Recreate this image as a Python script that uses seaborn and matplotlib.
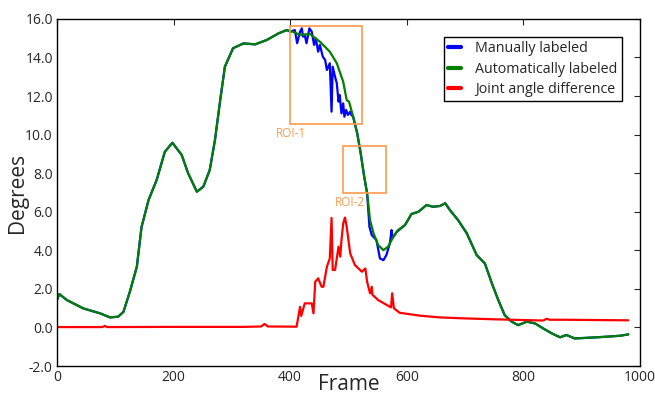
import numpy as np
import seaborn as sns
import matplotlib
matplotlib.use("Agg")
import matplotlib.pyplot as plt
from matplotlib.patches import Rectangle
from matplotlib.ticker import FormatStrFormatter, MultipleLocator

# Automatically labeled joint angle
auto_frame = [0, 4, 17, 45, 74, 91, 105, 114, 125, 137, 145, 157, 171, 185, 198, 214, 225, 240,
              251, 262, 271, 280, 288, 302, 320, 340, 360, 380, 394, 405, 417, 434, 451, 468,
              480, 491, 497, 501, 508, 515, 521, 527, 532, 537, 543, 551, 560, 568, 577, 585,
              597, 608, 620, 634, 645, 657, 666, 674, 688, 703, 720, 734, 746, 757, 768, 780,
              791, 806, 820, 834, 849, 863, 874, 888, 914, 943, 966, 980]
auto_deg = [1.42, 1.73, 1.42, 0.99, 0.73, 0.52, 0.56, 0.81, 1.85, 3.15, 5.2, 6.6, 7.65, 9.11,
            9.58, 8.94, 7.99, 7.04, 7.30, 8.16, 9.72, 11.79, 13.52, 14.48, 14.73, 14.68, 14.91,
            15.25, 15.42, 15.33, 15.17, 15.22, 14.82, 14.30, 13.70, 12.74, 11.79, 11.71, 10.93,
            10.07, 9.03, 7.82, 6.96, 5.57, 4.88, 4.27, 4.01, 4.19, 4.70, 5.05, 5.31, 5.88, 6.00,
            6.35, 6.26, 6.30, 6.44, 6.09, 5.57, 4.88, 3.75, 3.32, 2.29, 1.42, 0.64, 0.30, 0.12,
            0.30, 0.21, -0.05, -0.31, -0.51, -0.39, -0.57, -0.53, -0.48, -0.43, -0.36]

# Manually labeled joint angle
manual_frame = [0, 4, 17, 45, 74, 91, 105, 114, 125, 137, 145, 157, 171, 185, 198, 214, 225, 240,
                251, 262, 271, 280, 288, 302, 320, 340, 360, 380, 394, 400, 408, 412, 417, 420,
                422, 425, 428, 433, 437, 441, 444, 448, 451, 456, 460, 463, 468, 471, 473, 477,
                480, 483, 485, 488, 491, 493, 496, 499, 503, 505, 508, 515, 521, 527, 532, 536,
                540, 548, 554, 560, 565, 571, 574, 575, 583, 597, 608, 620, 634, 645, 657, 666,
                674, 688, 703, 720, 734, 746, 757, 768, 780, 791, 806, 820, 834, 849, 863, 874,
                888, 914, 943, 966, 980]
manual_deg = [1.42, 1.73, 1.42, 0.99, 0.73, 0.52, 0.56, 0.81, 1.85, 3.15, 5.2, 6.6, 7.65, 9.11,
              9.58, 8.94, 7.99, 7.04, 7.30, 8.16, 9.72, 11.79, 13.52, 14.48, 14.73, 14.68, 14.91,
              15.25, 15.42, 15.34, 15.42, 14.74, 15.34, 15.51, 15.08, 15.17, 14.74, 15.51, 15.34,
              14.65, 14.99, 14.30, 14.65, 14.04, 13.87, 13.35, 13.70, 11.19, 13.52, 13.00, 12.66,
              11.71, 12.05, 11.10, 11.62, 10.93, 11.28, 11.02, 11.19, 11.02, 10.93, 10.07, 9.03,
              7.82, 6.96, 5.22, 4.79, 4.53, 3.58, 3.49, 3.75, 4.36, 5.05, 4.62, 4.96, 5.31, 5.88,
              6.00, 6.35, 6.26, 6.30, 6.44, 6.09, 5.57, 4.88, 3.75, 3.32, 2.29, 1.42, 0.64, 0.30,
              0.12, 0.30, 0.21, -0.05, -0.31, -0.51, -0.39, -0.57, -0.53, -0.48, -0.43, -0.36]

# Joint angle difference
diff_frame = [0, 78, 82, 86, 200, 320, 350, 356, 362, 411, 417, 419, 425, 437, 440, 443, 448,
              454, 457, 463, 468, 471, 473, 477, 483, 486, 488, 491, 494, 497, 503, 511, 523,
              529, 532, 537, 540, 541, 551, 566, 573, 575, 578, 588, 623, 657, 700, 754, 834,
              840, 845, 868, 980]
diff_deg = [0.02, 0.02, 0.08, 0.02, 0.03, 0.03, 0.05, 0.18, 0.05, 0.04, 1.07, 0.6, 1.25, 1.25,
            0.73, 2.37, 2.55, 2.11, 2.11, 3.15, 3.58, 5.68, 2.98, 2.98, 4.19, 3.67, 4.53, 5.40,
            5.70, 5.22, 3.84, 3.24, 2.89, 3.06, 2.37, 1.77, 2.11, 1.7, 1.42, 1.16, 1.04, 1.77,
            0.99, 0.76, 0.61, 0.52, 0.47, 0.42, 0.36, 0.45, 0.40, 0.40, 0.37]

roi_names = ["ROI-1", "ROI-2"]
roi_x = [400, 491]
roi_y = [10.55, 6.97]
roi_w = [123, 73]
roi_h = [5.08, 2.44]
roi_label_x = [401, 503]

sns.set_style("white", {"xtick.direction": "in", "ytick.direction": "in",
                        "axes.edgecolor": "black"})
plt.rcParams['font.family'] = ['Open Sans', 'DejaVu Sans']

fig, ax = plt.subplots(figsize=(6.55, 3.94), dpi=100)
fig.subplots_adjust(left=0.087, right=0.977, top=0.952, bottom=0.071)

sns.lineplot(x=manual_frame, y=manual_deg, color='blue', lw=1.6, sort=False,
             estimator=None, label='Manually labeled', ax=ax)
sns.lineplot(x=auto_frame, y=auto_deg, color='#007f00', lw=1.6, sort=False,
             estimator=None, label='Automatically labeled', ax=ax)
sns.lineplot(x=diff_frame, y=diff_deg, color='red', lw=1.6, sort=False,
             estimator=None, label='Joint angle difference', ax=ax)

# regions of interest
orange = '#ff9a4d'
for name, x0, y0, w, h, lx in zip(roi_names, roi_x, roi_y, roi_w, roi_h, roi_label_x):
    ax.add_patch(Rectangle((x0, y0), w, h, fill=False, edgecolor=orange, lw=1.2, zorder=5))
    ax.text(lx, y0 - 0.15, name, color=orange, fontsize=8.5, ha='center', va='top')

ax.set_xlim(0, 1000)
ax.set_ylim(-2, 16)
ax.xaxis.set_major_locator(MultipleLocator(200))
ax.yaxis.set_major_locator(MultipleLocator(2))
ax.yaxis.set_major_formatter(FormatStrFormatter('%.1f'))
ax.tick_params(axis='both', which='both', direction='in', length=4, width=0.8,
               top=True, right=True, labelsize=10, pad=3)
for s in ax.spines.values():
    s.set_linewidth(1.0)
    s.set_color('black')

ax.set_xlabel("Frame", fontsize=15)
ax.set_ylabel("Degrees", fontsize=15)
ax.xaxis.set_label_coords(0.5, -0.022)
ax.yaxis.set_label_coords(-0.05, 0.5)

leg = ax.legend(loc='upper right', bbox_to_anchor=(0.969, 0.948), borderaxespad=0,
                fontsize=10.3, handlelength=0.9, handletextpad=1.0, fancybox=False,
                framealpha=1, edgecolor='black', borderpad=0.3, labelspacing=0.38)
leg.get_frame().set_linewidth(1.0)
for line in leg.get_lines():
    line.set_linewidth(3)

plt.savefig("out.png", dpi=100)
